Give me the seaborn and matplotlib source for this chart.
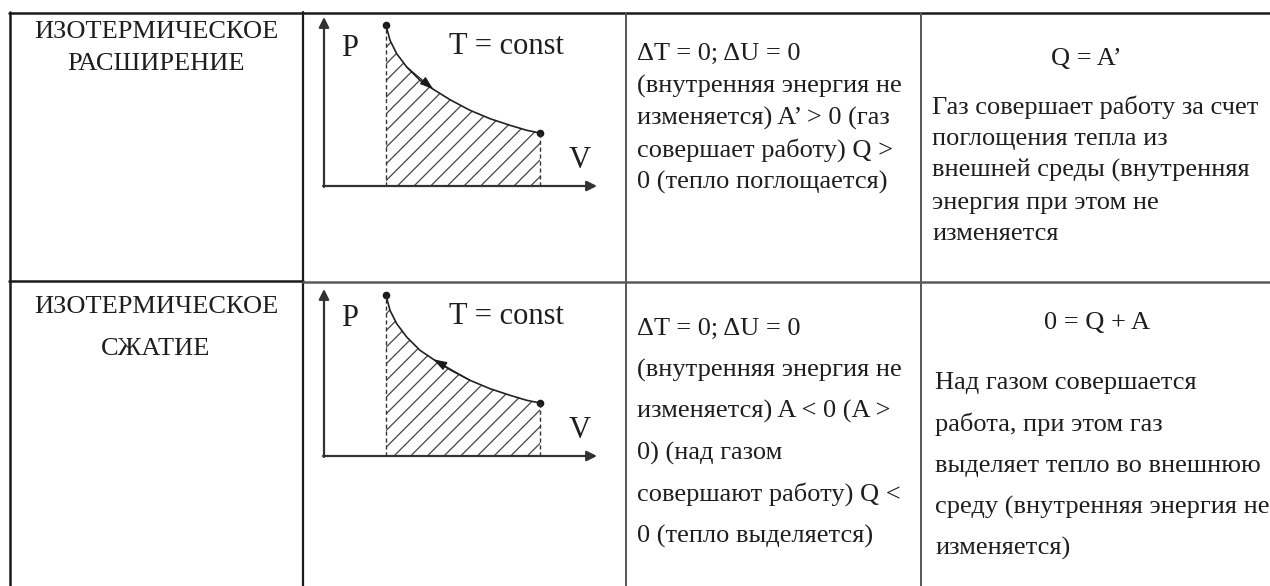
import matplotlib
matplotlib.use("Agg")
import matplotlib.pyplot as plt
import seaborn as sns

# --- данные ---
# точки изотермы (V, P в условных единицах)
V = [62, 66, 72.7, 82.7, 96, 109.3, 126, 146, 166, 186, 202.7, 216]
P = [160.7, 145.7, 132.3, 119, 105.7, 96.7, 86.3, 75.7, 67.3, 60.7, 55.7, 53]

process_names = [["ИЗОТЕРМИЧЕСКОЕ", "РАСШИРЕНИЕ"],
                 ["ИЗОТЕРМИЧЕСКОЕ", "СЖАТИЕ"]]
conditions = [["ΔT = 0; ΔU = 0",
               "(внутренняя энергия не",
               "изменяется) A’ > 0 (газ",
               "совершает работу) Q >",
               "0 (тепло поглощается)"],
              ["ΔT = 0; ΔU = 0",
               "(внутренняя энергия не",
               "изменяется) A < 0 (A >",
               "0) (над газом",
               "совершают работу) Q <",
               "0 (тепло выделяется)"]]
formulas = ["Q = A’", "0 = Q + A"]
comments = [["Газ совершает работу за счет",
             "поглощения тепла из",
             "внешней среды (внутренняя",
             "энергия при этом не",
             "изменяется"],
            ["Над газом совершается",
             "работа, при этом газ",
             "выделяет тепло во внешнюю",
             "среду (внутренняя энергия не",
             "изменяется)"]]
directions = ["forward", "backward"]

sns.set_theme(style="white")
plt.rcParams['font.family'] = ['Liberation Serif', 'DejaVu Serif']
plt.rcParams['hatch.linewidth'] = 0.9

W, H = 1270, 586
fig = plt.figure(figsize=(12.7, 5.86), dpi=100)
ax0 = fig.add_axes([0, 0, 1, 1])
ax0.set_xlim(0, W)
ax0.set_ylim(H, 0)
ax0.axis('off')

txt = '#1e1e1e'
fs = 19

# сетка таблицы
ax0.plot([8.5, W], [13, 13], color='k', lw=1.8)
ax0.plot([9.5, 9.5], [12, H], color='k', lw=1.8)
ax0.plot([303, 303], [12, H], color='k', lw=1.6)
ax0.plot([626, 626], [13, H], color='#555555', lw=1.4)
ax0.plot([921, 921], [13, H], color='#555555', lw=1.4)
ax0.plot([9, 303], [281, 281], color='k', lw=1.8)
ax0.plot([303, W], [281.5, 281.5], color='#5a5a5a', lw=1.8)

# текст
name_base = [[38, 70], [313, 355]]
cond_base = [[60, 93, 125, 157, 189], [335, 377, 418, 460, 501, 543]]
form_pos = [(1086, 65), (1097, 329)]
comm_base = [[114, 145.5, 177, 208.5, 240], [389, 430.5, 472, 513.5, 555]]
comm_x = [932, 935]

for r in range(2):
    for line, y in zip(process_names[r], name_base[r]):
        ax0.text(156, y, line, ha='center', va='baseline', fontsize=fs, color=txt)
    for line, y in zip(conditions[r], cond_base[r]):
        ax0.text(637, y, line, ha='left', va='baseline', fontsize=fs, color=txt)
    ax0.text(form_pos[r][0], form_pos[r][1], formulas[r], ha='center', va='baseline',
             fontsize=fs, color=txt)
    for line, y in zip(comments[r], comm_base[r]):
        ax0.text(comm_x[r], y, line, ha='left', va='baseline', fontsize=fs, color=txt)

# диаграммы P-V
origins = [186, 456]
ytips = [169, 167]
for r, oy in enumerate(origins):
    ax = fig.add_axes([324 / W, (H - oy) / H, 290 / W, 175 / H])
    ax.set_xlim(0, 290)
    ax.set_ylim(0, 175)
    ax.axis('off')

    ax.fill_between(V, 0, P, facecolor='none', hatch='//', edgecolor='#444444', linewidth=0)
    ax.plot([V[0], V[0]], [0, P[0]], ls=(0, (3, 2)), lw=1, color='#333333')
    ax.plot([V[-1], V[-1]], [0, P[-1]], ls=(0, (3, 2)), lw=1, color='#333333')
    sns.lineplot(x=V, y=P, ax=ax, color='#222222', lw=1.2, sort=False, estimator=None)
    sns.scatterplot(x=[V[0], V[-1]], y=[P[0], P[-1]], ax=ax, s=30, color='k', linewidth=0)

    arr = dict(arrowstyle='-|>', color='#333333', lw=1.6, mutation_scale=15,
               shrinkA=0, shrinkB=0)
    ax.annotate('', xy=(0, ytips[r]), xytext=(0, -1), arrowprops=arr)
    ax.annotate('', xy=(273, 0), xytext=(-1, 0), arrowprops=arr)

    head = dict(arrowstyle='-|>,head_length=0.6,head_width=0.2', color='k', lw=0.8,
                mutation_scale=14, shrinkA=0, shrinkB=0)
    if directions[r] == 'forward':
        ax.annotate('', xy=(V[5], P[5]), xytext=(V[3], P[3]), arrowprops=head)
    else:
        ax.annotate('', xy=(V[5], P[5]), xytext=(V[7], P[7]), arrowprops=head)

    ax.text(26, 137, "P", ha='center', va='center', fontsize=22, color=txt)
    ax.text(182, 139, "T = const", ha='center', va='center', fontsize=22, color=txt)
    ax.text(256, 25, "V", ha='center', va='center', fontsize=22, color=txt)

fig.savefig('out.png', dpi=100)
